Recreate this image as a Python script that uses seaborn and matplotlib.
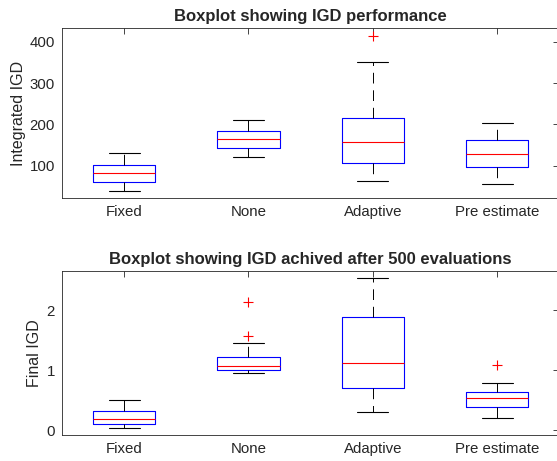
import matplotlib
matplotlib.use("Agg")
import matplotlib.pyplot as plt
import seaborn as sns
import pandas as pd

methods = ["Fixed", "None", "Adaptive", "Pre estimate"]

# integrated IGD samples per method (estimated from the box/whisker positions)
int_fixed = [39.5, 52, 61, 72, 83, 92, 103, 118, 131.5]
int_none = [120, 132, 143, 155, 165, 176, 185, 198, 210]
int_adaptive = [63, 80, 95, 107, 125, 142, 157.5, 180, 200, 216, 260, 351, 414]
int_pre = [56, 78, 96, 112, 128.5, 145, 161.5, 185, 204]

# final IGD after 500 evaluations
fin_fixed = [0.04, 0.07, 0.094, 0.14, 0.19, 0.25, 0.317, 0.4, 0.5]
fin_none = [0.955, 0.97, 0.99, 1.0, 1.02, 1.04, 1.06, 1.1, 1.16, 1.22, 1.455, 1.57, 2.13]
fin_adaptive = [0.295, 0.5, 0.695, 0.9, 1.12, 1.5, 1.89, 2.2, 2.54]
fin_pre = [0.205, 0.27, 0.33, 0.378, 0.43, 0.48, 0.53, 0.57, 0.6, 0.633, 0.7, 0.79, 1.08]


def to_frame(groups):
    rows = []
    for name, vals in zip(methods, groups):
        rows += [(name, v) for v in vals]
    return pd.DataFrame(rows, columns=["method", "value"])


df_int = to_frame([int_fixed, int_none, int_adaptive, int_pre])
df_fin = to_frame([fin_fixed, fin_none, fin_adaptive, fin_pre])

sns.set_theme(style="white")
plt.rcParams["font.family"] = ["Liberation Sans", "DejaVu Sans"]

fig = plt.figure(figsize=(5.57, 4.61), dpi=100)
ax1 = fig.add_axes([0.1113, 0.5705, 0.8927, 0.3685])
ax2 = fig.add_axes([0.1113, 0.0564, 0.8927, 0.3564])

dark = "#262626"

for ax, df in [(ax1, df_int), (ax2, df_fin)]:
    sns.boxplot(data=df, x="method", y="value", order=methods, ax=ax,
                width=0.5, whis=1.5, fill=False, color="blue", linewidth=0.8,
                medianprops=dict(color="red", linewidth=0.8),
                whiskerprops=dict(color="black", linestyle=(0, (11, 7)), linewidth=0.7),
                capprops=dict(color="black", linewidth=0.8),
                flierprops=dict(marker="+", markeredgecolor="red", markerfacecolor="red",
                                markersize=7, markeredgewidth=0.8))
    ax.set_xlim(-0.5, 3.5)
    ax.set_xlabel("")
    ax.tick_params(direction="in", length=4, width=0.6, colors=dark, labelsize=10.8,
                   top=True, right=True, pad=5)
    for s in ax.spines.values():
        s.set_color(dark)
        s.set_linewidth(0.6)
        s.set_visible(True)

ax1.set_ylim(22, 433)
ax1.set_yticks([100, 200, 300, 400])
ax1.set_ylabel("Integrated IGD", fontsize=11.5, color=dark, labelpad=3)
ax1.set_title("Boxplot showing IGD performance", fontsize=12, fontweight="bold", pad=5)

ax2.set_ylim(-0.083, 2.655)
ax2.set_yticks([0, 1, 2])
ax2.set_ylabel("Final IGD", fontsize=11.5, color=dark, labelpad=3)
ax2.set_title("Boxplot showing IGD achived after 500 evaluations", fontsize=12,
              fontweight="bold", pad=5)

fig.savefig("out.png", dpi=100)
